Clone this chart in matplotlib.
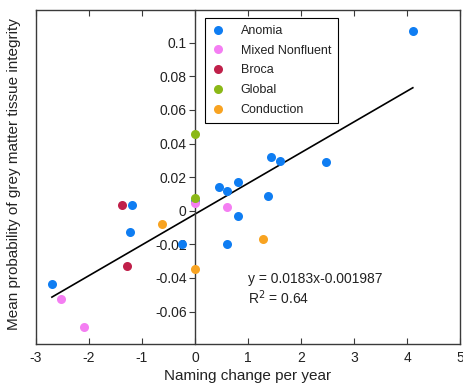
import matplotlib
matplotlib.use("Agg")
import matplotlib.pyplot as plt
import numpy as np

plt.rcParams['font.family'] = ['Liberation Sans', 'DejaVu Sans']

groups = ["Anomia", "Mixed Nonfluent", "Broca", "Global", "Conduction"]
colors = ["#0f7df2", "#f47ef2", "#c0204a", "#8bb817", "#f8a321"]

anomia_x = [4.11, 1.43, 1.61, 2.48, 0.45, 0.60, 0.82, 1.38, 0.82, 0.60, -0.25, 0.0, -1.18, -1.23, -2.70]
anomia_y = [0.107, 0.032, 0.0294, 0.029, 0.0141, 0.0115, 0.0173, 0.0089, -0.003, -0.0198, -0.0196, 0.006, 0.0034, -0.0129, -0.0436]
mixed_x = [0.0, 0.60, -2.52, -2.09]
mixed_y = [0.0044, 0.002, -0.0526, -0.0694]
broca_x = [-1.38, -1.29]
broca_y = [0.0034, -0.0327]
global_x = [0.0, 0.0]
global_y = [0.0455, 0.0076]
cond_x = [-0.62, 1.28, 0.0]
cond_y = [-0.0077, -0.0168, -0.0345]

slope = 0.0183
intercept = -0.001987
r2 = 0.64

xticks = [-3, -2, -1, 0, 1, 2, 3, 4, 5]
yticks = [-0.06, -0.04, -0.02, 0, 0.02, 0.04, 0.06, 0.08, 0.1]
ytick_labels = ["-0.06", "-0.04", "-0.02", "0", "0.02", "0.04", "0.06", "0.08", "0.1"]

fig = plt.figure(figsize=(4.63, 3.87), dpi=100)
ax = fig.add_axes([36/463, 1-344/387, 424/463, 334/387])

edge = '#3a3a3a'
txt = '#222222'

ax.set_xlim(-3, 5)
ax.set_ylim(-0.0793, 0.1195)

# regression line
all_x = anomia_x + mixed_x + broca_x + global_x + cond_x
xl = np.array([min(all_x), max(all_x)])
ax.plot(xl, slope*xl + intercept, color='black', lw=1.2, zorder=2)

series = [(anomia_x, anomia_y), (mixed_x, mixed_y), (broca_x, broca_y),
          (global_x, global_y), (cond_x, cond_y)]
handles = []
for (xs, ys), c, g in zip(series, colors, groups):
    h, = ax.plot(xs, ys, 'o', color=c, markersize=6.5, markeredgewidth=0, label=g, zorder=3)
    handles.append(h)

# y axis at origin
ax.spines['left'].set_position(('data', 0))
ax.spines['left'].set_color(edge)
for s in ['top', 'right', 'bottom']:
    ax.spines[s].set_color(edge)
    ax.spines[s].set_linewidth(1.0)
ax.spines['left'].set_linewidth(1.0)
# left box edge
ax.plot([0, 0], [0, 1], transform=ax.transAxes, color=edge, lw=1.0, clip_on=False, zorder=5)

ax.set_xticks(xticks)
ax.set_xticklabels([str(t) for t in xticks])
ax.set_yticks(yticks)
ax.set_yticklabels(ytick_labels)
ax.tick_params(axis='x', direction='in', top=True, bottom=True, length=4, width=0.8,
               color=edge, labelsize=10, labelcolor=txt, pad=5)
ax.tick_params(axis='y', direction='out', length=4, width=0.8, color=edge,
               labelsize=10, labelcolor=txt, pad=2)

fig.text(14/463, 1-174/387, "Mean probability of grey matter tissue integrity",
         rotation=90, ha='center', va='center', fontsize=11, color=txt)
fig.text(248/463, 1-376/387, "Naming change per year", ha='center', va='center',
         fontsize=11, color=txt)

ax.text(1.0, -0.0405, "y = %.4fx%.6f" % (slope, intercept), fontsize=10, color=txt,
        ha='left', va='center')
ax.text(1.0, -0.0518, "R$^2$ = %.2f" % r2, fontsize=10, color=txt, ha='left', va='center')

leg = ax.legend(handles=handles, loc='upper left', bbox_to_anchor=(205/463, 1-18/387),
                bbox_transform=fig.transFigure, borderaxespad=0, fancybox=False,
                edgecolor='black', framealpha=1, fontsize=9, labelspacing=0.62,
                handlelength=1.0, handletextpad=1.3, borderpad=0.55)
leg.get_frame().set_linewidth(0.8)
for t in leg.get_texts():
    t.set_color(txt)

fig.savefig('out.png', dpi=100)
